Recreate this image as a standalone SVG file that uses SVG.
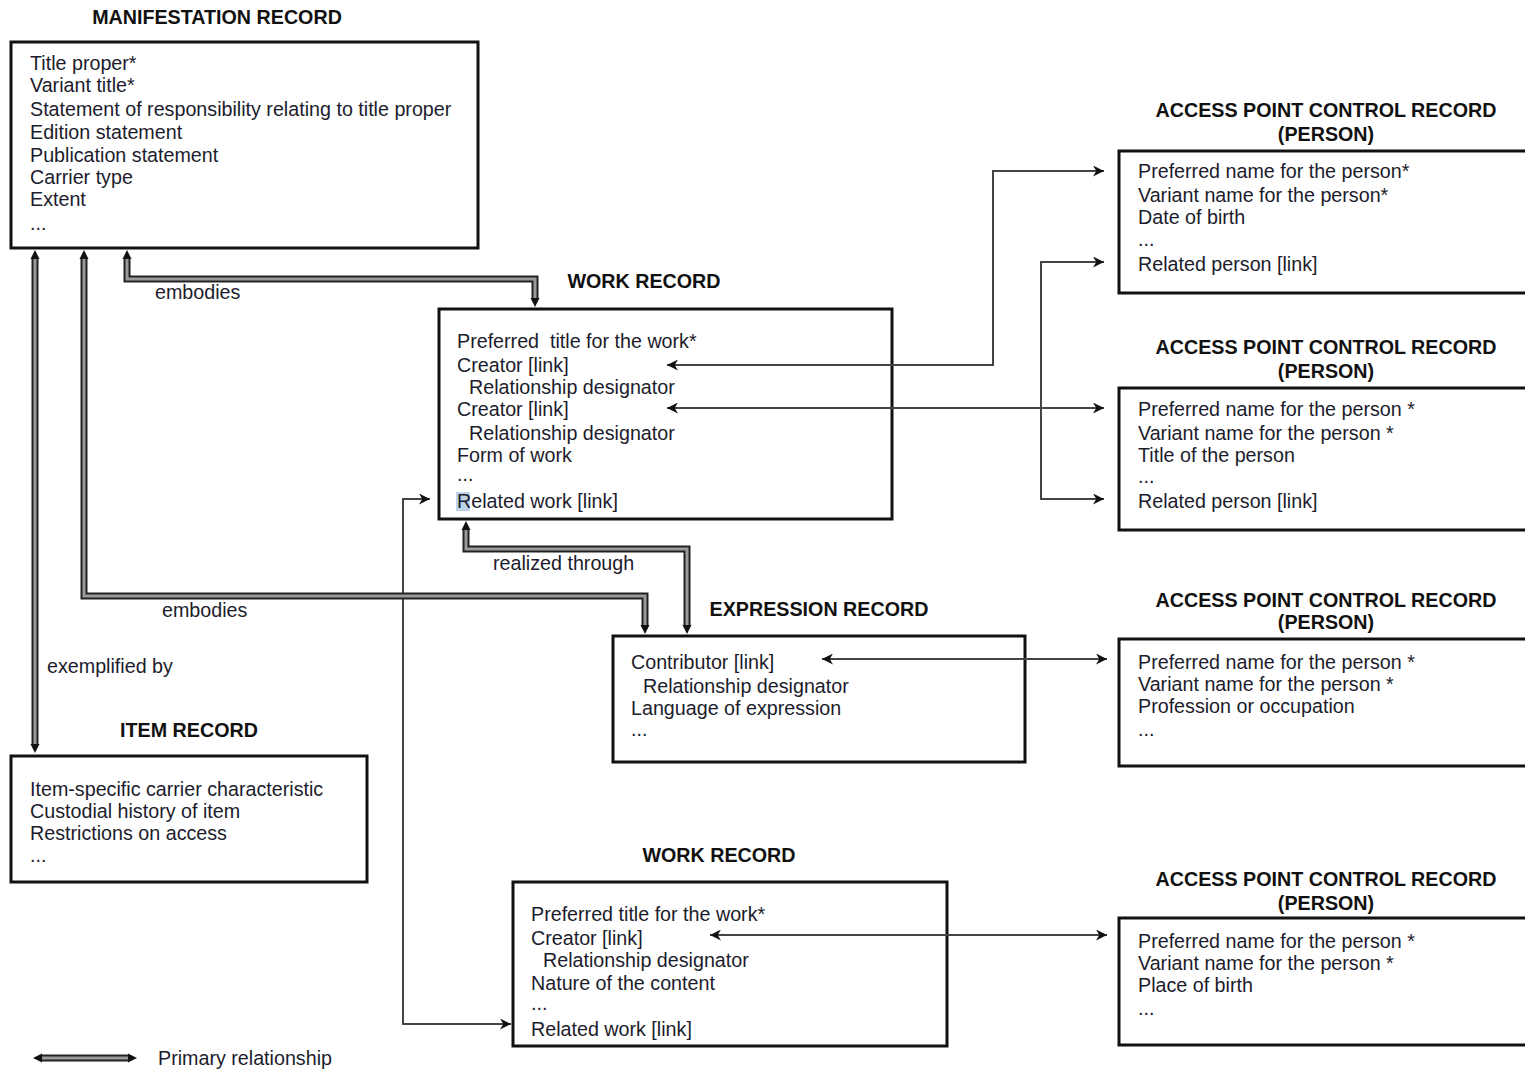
<svg xmlns="http://www.w3.org/2000/svg" width="1525" height="1071" viewBox="0 0 1525 1071">
<style>
text{font-family:"Liberation Sans",Arial,sans-serif;font-size:19.7px;fill:#1c1c2c}
.t{font-weight:bold;fill:#111}
.c{text-anchor:middle}
.box{fill:#fff;stroke:#111;stroke-width:3}
.ln{fill:none;stroke:#444;stroke-width:2}
.po{fill:none;stroke:#222;stroke-width:7}
.pi{fill:none;stroke:#9a9a9a;stroke-width:3}
</style>
<defs>
<marker id="ah" viewBox="0 0 10 10" refX="10" refY="5" markerWidth="13" markerHeight="11" markerUnits="userSpaceOnUse" orient="auto-start-reverse"><path d="M0,0 L10,5 L0,10 L3,5z" fill="#111"/></marker>
<marker id="ph" viewBox="0 0 10 10" refX="0" refY="5" markerWidth="9" markerHeight="11" markerUnits="userSpaceOnUse" orient="auto-start-reverse"><path d="M0,0 L10,5 L0,10z" fill="#111"/></marker>
</defs>
<rect width="1525" height="1071" fill="#fff"/>

<g id="manifestation">
<text class="t c" x="217" y="24">MANIFESTATION RECORD</text>
<rect class="box" x="11" y="42" width="467" height="206"/>
<text x="30" y="70">Title proper*</text>
<text x="30" y="92">Variant title*</text>
<text x="30" y="116">Statement of responsibility relating to title proper</text>
<text x="30" y="139">Edition statement</text>
<text x="30" y="162">Publication statement</text>
<text x="30" y="184">Carrier type</text>
<text x="30" y="206">Extent</text>
<text x="30" y="230">...</text>
</g>

<g id="work1">
<text class="t c" x="644" y="288">WORK RECORD</text>
<rect class="box" x="439" y="309" width="453" height="210"/>
<rect x="456" y="492" width="14" height="19" fill="#bcd3ea"/>
<text x="457" y="348" xml:space="preserve">Preferred  title for the work*</text>
<text x="457" y="372">Creator [link]</text>
<text x="469" y="394">Relationship designator</text>
<text x="457" y="416">Creator [link]</text>
<text x="469" y="440">Relationship designator</text>
<text x="457" y="462">Form of work</text>
<text x="457" y="481">...</text>
<text x="457" y="508">Related work [link]</text>
</g>

<g id="expression">
<text class="t c" x="819" y="616">EXPRESSION RECORD</text>
<rect class="box" x="613" y="636" width="412" height="126"/>
<text x="631" y="669">Contributor [link]</text>
<text x="643" y="693">Relationship designator</text>
<text x="631" y="715">Language of expression</text>
<text x="631" y="736">...</text>
</g>

<g id="item">
<text class="t c" x="189" y="737">ITEM RECORD</text>
<rect class="box" x="11" y="756" width="356" height="126"/>
<text x="30" y="796">Item-specific carrier characteristic</text>
<text x="30" y="818">Custodial history of item</text>
<text x="30" y="840">Restrictions on access</text>
<text x="30" y="862">...</text>
</g>

<g id="work2">
<text class="t c" x="719" y="862">WORK RECORD</text>
<rect class="box" x="513" y="882" width="434" height="164"/>
<text x="531" y="921">Preferred title for the work*</text>
<text x="531" y="945">Creator [link]</text>
<text x="543" y="967">Relationship designator</text>
<text x="531" y="990">Nature of the content</text>
<text x="531" y="1010">...</text>
<text x="531" y="1036">Related work [link]</text>
</g>

<g id="ap1">
<text class="t c" x="1326" y="117">ACCESS POINT CONTROL RECORD</text>
<text class="t c" x="1326" y="141">(PERSON)</text>
<rect class="box" x="1119" y="151" width="420" height="142"/>
<text x="1138" y="178">Preferred name for the person*</text>
<text x="1138" y="202">Variant name for the person*</text>
<text x="1138" y="224">Date of birth</text>
<text x="1138" y="246">...</text>
<text x="1138" y="271">Related person [link]</text>
</g>

<g id="ap2">
<text class="t c" x="1326" y="354">ACCESS POINT CONTROL RECORD</text>
<text class="t c" x="1326" y="378">(PERSON)</text>
<rect class="box" x="1119" y="388" width="420" height="142"/>
<text x="1138" y="416">Preferred name for the person *</text>
<text x="1138" y="440">Variant name for the person *</text>
<text x="1138" y="462">Title of the person</text>
<text x="1138" y="483">...</text>
<text x="1138" y="508">Related person [link]</text>
</g>

<g id="ap3">
<text class="t c" x="1326" y="607">ACCESS POINT CONTROL RECORD</text>
<text class="t c" x="1326" y="629">(PERSON)</text>
<rect class="box" x="1119" y="639" width="420" height="127"/>
<text x="1138" y="669">Preferred name for the person *</text>
<text x="1138" y="691">Variant name for the person *</text>
<text x="1138" y="713">Profession or occupation</text>
<text x="1138" y="736">...</text>
</g>

<g id="ap4">
<text class="t c" x="1326" y="886">ACCESS POINT CONTROL RECORD</text>
<text class="t c" x="1326" y="910">(PERSON)</text>
<rect class="box" x="1119" y="918" width="420" height="127"/>
<text x="1138" y="948">Preferred name for the person *</text>
<text x="1138" y="970">Variant name for the person *</text>
<text x="1138" y="992">Place of birth</text>
<text x="1138" y="1015">...</text>
</g>

<g id="connectors">
<path class="ln" d="M667,365 H993 V171 H1104" marker-start="url(#ah)" marker-end="url(#ah)"/>
<path class="ln" d="M667,408 H1104" marker-start="url(#ah)" marker-end="url(#ah)"/>
<path class="ln" d="M1104,262 H1041 V499 H1104" marker-start="url(#ah)" marker-end="url(#ah)"/>
<path class="ln" d="M822,659 H1107" marker-start="url(#ah)" marker-end="url(#ah)"/>
<path class="ln" d="M710,935 H1107" marker-start="url(#ah)" marker-end="url(#ah)"/>
<path class="ln" d="M430,499 H403 V1024 H511" marker-start="url(#ah)" marker-end="url(#ah)"/>
<path class="po" d="M127,259 V279 H535 V298" marker-start="url(#ph)" marker-end="url(#ph)"/>
<path class="pi" d="M127,259 V279 H535 V298"/>
<path class="po" d="M84,259 V596 H645 V625" marker-start="url(#ph)" marker-end="url(#ph)"/>
<path class="pi" d="M84,259 V596 H645 V625"/>
<path class="po" d="M35,259 V744" marker-start="url(#ph)" marker-end="url(#ph)"/>
<path class="pi" d="M35,259 V744"/>
<path class="po" d="M466,530 V549 H687 V625" marker-start="url(#ph)" marker-end="url(#ph)"/>
<path class="pi" d="M466,530 V549 H687 V625"/>
<text x="155" y="299">embodies</text>
<text x="162" y="617">embodies</text>
<text x="47" y="673">exemplified by</text>
<text x="493" y="570">realized through</text>
</g>

<g id="legend">
<path class="po" d="M42,1058 H128" marker-start="url(#ph)" marker-end="url(#ph)"/>
<path class="pi" d="M42,1058 H128"/>
<text x="158" y="1065">Primary relationship</text>
</g>
</svg>
